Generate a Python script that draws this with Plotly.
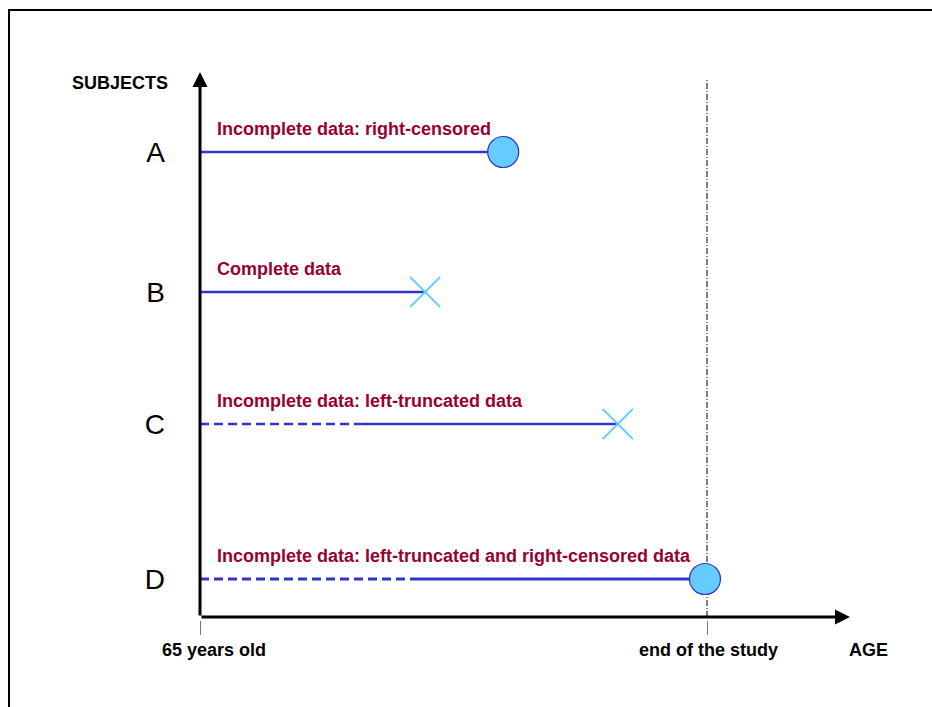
import plotly.graph_objects as go

# ---- data ----
subjects = ["A", "B", "C", "D"]
row_y = [46.5, 32.5, 19.3, 3.8]            # vertical position of each subject row
entry_x = [0.0, 0.0, 3.2, 4.28]             # start of observation (after truncation)
exit_x = [5.98, 4.44, 8.24, 9.96]           # end of follow-up
events = ["censored", "event", "event", "censored"]
labels = [
    "Incomplete data: right-censored",
    "Complete data",
    "Incomplete data: left-truncated data",
    "Incomplete data: left-truncated and right-censored data",
]
truncated = [False, False, True, True]
study_end = 10.0
age_ticks = [0.0, study_end]
age_tick_text = ["65 years old", "end of the study"]
age_tick_shift = [14, 1]

LINE = "#3333CC"
MARK = "#66CCFF"
TXT = "#990033"
FONT = "Liberation Sans, Arial, sans-serif"

X_RANGE = [-3.945, 14.438]
Y_RANGE = [-9.0, 61.7]
x_tip = 12.82
y_tip = 54.5

fig = go.Figure()

# end-of-study dash-dot line
fig.add_trace(go.Scatter(x=[study_end, study_end], y=[0, 53.7], mode="lines",
                         line=dict(color="black", width=1, dash="6px,2px,1px,2px"),
                         hoverinfo="skip", showlegend=False))

for i, s in enumerate(subjects):
    w = 3 if s == "D" else 2.5
    if truncated[i]:
        fig.add_trace(go.Scatter(x=[0, entry_x[i]], y=[row_y[i], row_y[i]], mode="lines",
                                 line=dict(color=LINE, width=w, dash="9px,5px"),
                                 hoverinfo="skip", showlegend=False))
    fig.add_trace(go.Scatter(x=[entry_x[i], exit_x[i]], y=[row_y[i], row_y[i]], mode="lines",
                             line=dict(color=LINE, width=w),
                             hoverinfo="skip", showlegend=False))
    if events[i] == "censored":
        marker = dict(symbol="circle", size=31, color=MARK, line=dict(color=LINE, width=1.2))
    else:
        marker = dict(symbol="x-thin", size=30, color=MARK, line=dict(color=MARK, width=1.8))
    fig.add_trace(go.Scatter(x=[exit_x[i]], y=[row_y[i]], mode="markers", marker=marker,
                             hoverinfo="skip", showlegend=False))
    fig.add_annotation(x=0, y=row_y[i], text="<b>%s</b>" % labels[i], showarrow=False,
                       xanchor="left", yanchor="bottom", xshift=15, yshift=11,
                       font=dict(family=FONT, size=18, color=TXT))

# axis arrows
fig.add_annotation(x=x_tip, y=0, ax=0, ay=0, xref="x", yref="y", axref="x", ayref="y",
                   showarrow=True, arrowhead=2, arrowsize=1, arrowwidth=3, arrowcolor="black",
                   text="", standoff=0)
fig.add_annotation(x=0, y=y_tip, ax=0, ay=0, xref="x", yref="y", axref="x", ayref="y",
                   showarrow=True, arrowhead=2, arrowsize=1, arrowwidth=3, arrowcolor="black",
                   text="", standoff=0)

# x tick labels
for xv, t, sh in zip(age_ticks, age_tick_text, age_tick_shift):
    fig.add_annotation(x=xv, y=0, xref="x", yref="y", text="<b>%s</b>" % t, showarrow=False,
                       xanchor="center", yanchor="middle", xshift=sh, yshift=-33,
                       font=dict(family=FONT, size=18, color="black"))

fig.add_annotation(x=0, y=y_tip, xref="x", yref="y", text="<b>SUBJECTS</b>", showarrow=False,
                   xanchor="right", yanchor="middle", xshift=-30, yshift=-11,
                   font=dict(family=FONT, size=18, color="black"))
fig.add_annotation(x=x_tip, y=0, xref="x", yref="y", text="<b>AGE</b>", showarrow=False,
                   xanchor="left", yanchor="middle", xshift=-3, yshift=-33,
                   font=dict(family=FONT, size=18, color="black"))

# outer frame
fig.add_shape(type="rect", xref="paper", yref="paper", x0=9 / 932, y0=-0.1, x1=1.1,
              y1=1 - 10 / 707, line=dict(color="black", width=2), fillcolor="rgba(0,0,0,0)")

fig.update_layout(
    width=932, height=707, margin=dict(l=0, r=0, t=0, b=0),
    paper_bgcolor="white", plot_bgcolor="white", showlegend=False,
    xaxis=dict(range=X_RANGE, showgrid=False, zeroline=False, showline=False,
               tickvals=age_ticks, showticklabels=False,
               ticks="outside", ticklen=14, tickwidth=1, tickcolor="#777",
               anchor="free", position=(707 - 620) / 707, fixedrange=True),
    yaxis=dict(range=Y_RANGE, showgrid=False, zeroline=False, showline=False,
               tickvals=row_y, ticktext=subjects, ticks="", ticklabelstandoff=35,
               anchor="free", position=200 / 932,
               tickfont=dict(family=FONT, size=28, color="black"), fixedrange=True),
)

fig.write_html("out.html", config={"displayModeBar": False},
               post_script="document.body.style.margin='0';document.body.style.overflow='hidden';")
